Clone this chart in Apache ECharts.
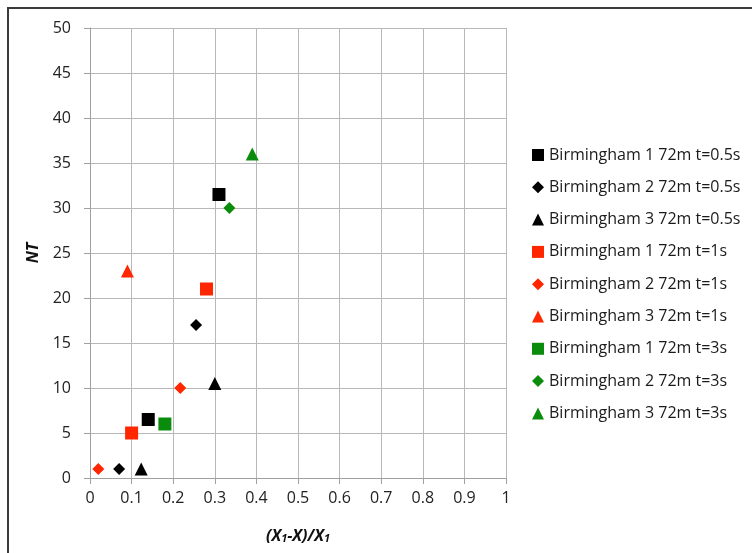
<!DOCTYPE html>
<html>
<head>
<meta charset="utf-8">
<script src="https://cdn.jsdelivr.net/npm/echarts@6/dist/echarts.min.js"></script>
<style>
  html, body { margin: 0; padding: 0; background: #fff; }
  #chart { width: 752px; height: 553px; }
</style>
</head>
<body>
<div id="chart"></div>
<script>
// Series names (legend order)
const seriesNames = [
  'Birmingham 1 72m t=0.5s',
  'Birmingham 2 72m t=0.5s',
  'Birmingham 3 72m t=0.5s',
  'Birmingham 1 72m t=1s',
  'Birmingham 2 72m t=1s',
  'Birmingham 3 72m t=1s',
  'Birmingham 1 72m t=3s',
  'Birmingham 2 72m t=3s',
  'Birmingham 3 72m t=3s'
];

// [ (X1-X)/X1 , NT ] pairs per series
const b1_05 = [[0.14, 6.5], [0.31, 31.5]];
const b2_05 = [[0.07, 1], [0.255, 17]];
const b3_05 = [[0.123, 1], [0.30, 10.5]];
const b1_1 = [[0.10, 5], [0.28, 21]];
const b2_1 = [[0.02, 1], [0.217, 10]];
const b3_1 = [[0.09, 23]];
const b1_3 = [[0.18, 6]];
const b2_3 = [[0.335, 30]];
const b3_3 = [[0.39, 36]];

const seriesData = [b1_05, b2_05, b3_05, b1_1, b2_1, b3_1, b1_3, b2_3, b3_3];

// Axis ticks
const xTicks = [0, 0.1, 0.2, 0.3, 0.4, 0.5, 0.6, 0.7, 0.8, 0.9, 1];
const yTicks = [0, 5, 10, 15, 20, 25, 30, 35, 40, 45, 50];

const BLACK = '#000000';
const RED = '#ff2600';
const GREEN = '#0c8c0c';
const colors = [BLACK, BLACK, BLACK, RED, RED, RED, GREEN, GREEN, GREEN];
const shapes = ['rect', 'diamond', 'triangle'];
const sizes = { rect: 13, diamond: 12, triangle: 13 };

const FONT = 'Open Sans';

const chart = echarts.init(document.getElementById('chart'), null, { renderer: 'canvas' });

const series = seriesData.map((data, i) => {
  const shape = shapes[i % 3];
  return {
    name: seriesNames[i],
    type: 'scatter',
    data: data,
    symbol: shape,
    symbolSize: sizes[shape],
    itemStyle: { color: colors[i], opacity: 1 },
    emphasis: { disabled: true }
  };
});

chart.setOption({
  animation: false,
  backgroundColor: '#ffffff',
  grid: { left: 90, right: 246, top: 28, bottom: 75, containLabel: false },
  xAxis: {
    type: 'value',
    min: xTicks[0],
    max: xTicks[xTicks.length - 1],
    interval: 0.1,
    name: '{p|(X}{s|1}{p|-X)/X}{s|1}',
    nameLocation: 'middle',
    nameGap: 44,
    nameTextStyle: {
      rich: {
        p: { fontFamily: FONT, fontSize: 16, fontWeight: 'bold', fontStyle: 'italic', color: '#111', verticalAlign: 'bottom', lineHeight: 22 },
        s: { fontFamily: FONT, fontSize: 11, fontWeight: 'bold', fontStyle: 'italic', color: '#111', verticalAlign: 'bottom', lineHeight: 6 }
      }
    },
    axisLine: { show: true, lineStyle: { color: '#a0a0a0', width: 1 } },
    axisTick: { show: true, inside: false, length: 6, lineStyle: { color: '#a0a0a0' } },
    axisLabel: {
      margin: 12,
      fontFamily: FONT, fontSize: 16, color: '#222',
      formatter: v => String(Math.round(v * 10) / 10)
    },
    splitLine: { show: true, lineStyle: { color: '#b8b8b8', width: 1 } }
  },
  yAxis: {
    type: 'value',
    min: yTicks[0],
    max: yTicks[yTicks.length - 1],
    interval: 5,
    name: 'NT',
    nameLocation: 'middle',
    nameGap: 39,
    nameRotate: 90,
    nameTextStyle: { fontFamily: FONT, fontSize: 16, fontWeight: 'bold', fontStyle: 'italic', color: '#111' },
    axisLine: { show: true, lineStyle: { color: '#a0a0a0', width: 1 } },
    axisTick: { show: true, inside: false, length: 6, lineStyle: { color: '#a0a0a0' } },
    axisLabel: { margin: 19, fontFamily: FONT, fontSize: 16, color: '#222' },
    splitLine: { show: true, lineStyle: { color: '#b8b8b8', width: 1 } }
  },
  legend: {
    orient: 'vertical',
    left: 532,
    top: 146,
    padding: 0,
    itemWidth: 12,
    itemHeight: 12,
    itemGap: 14.3,
    selectedMode: false,
    data: seriesNames,
    textStyle: { fontFamily: FONT, fontSize: 16, color: '#1a1a1a', lineHeight: 18 }
  },
  graphic: [
    {
      type: 'polyline',
      shape: { points: [[8, 553], [8, 8], [752, 8]] },
      style: { stroke: '#3a3a3a', lineWidth: 2, fill: null },
      silent: true
    }
  ],
  series: series
});
</script>
</body>
</html>
